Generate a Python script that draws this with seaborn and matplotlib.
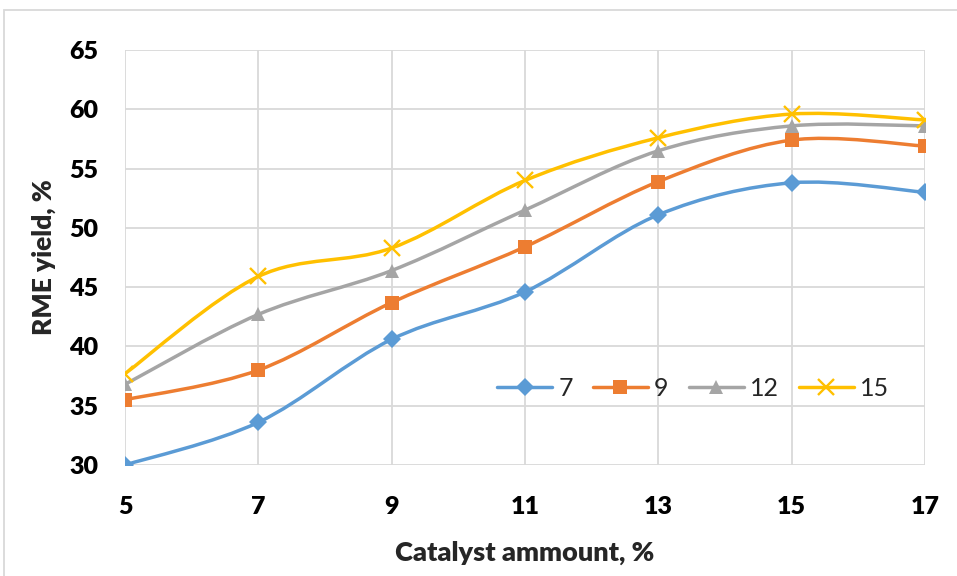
import numpy as np
import pandas as pd
import seaborn as sns
import matplotlib
matplotlib.use("Agg")
import matplotlib.pyplot as plt
from matplotlib.path import Path
from matplotlib.patches import PathPatch, Rectangle
from matplotlib.lines import Line2D

catalyst = [5, 7, 9, 11, 13, 15, 17]
yield_7 = [30.0, 33.6, 40.6, 44.6, 51.1, 53.8, 53.0]
yield_9 = [35.5, 38.0, 43.7, 48.4, 53.9, 57.4, 56.9]
yield_12 = [36.8, 42.7, 46.4, 51.5, 56.5, 58.6, 58.6]
yield_15 = [37.7, 45.9, 48.3, 54.0, 57.6, 59.6, 59.1]
series_names = ["7", "9", "12", "15"]
y_ticks = [30, 35, 40, 45, 50, 55, 60, 65]

colors = ["#5B9BD5", "#ED7D31", "#A5A5A5", "#FFC000"]
markers = ["D", "s", "^", "x"]
msizes = [9, 10, 10, 11.5]

sns.set_theme(style="white")
plt.rcParams["font.family"] = ["Lato", "DejaVu Sans"]

df = pd.DataFrame({
    "catalyst": catalyst * 4,
    "yield": yield_7 + yield_9 + yield_12 + yield_15,
    "series": [n for n in series_names for _ in catalyst],
})

fig = plt.figure(figsize=(9.57, 5.76), dpi=100)
ax = fig.add_axes([125 / 957, 1 - 465 / 576, 800 / 957, 415 / 576])


def smooth_path(xs, ys):
    """Bezier path through the points (Catmull-Rom style control points)."""
    pts = np.column_stack([xs, ys]).astype(float)
    n = len(pts)
    verts = [pts[0]]
    codes = [Path.MOVETO]
    for i in range(n - 1):
        p0 = pts[i - 1] if i > 0 else pts[i]
        p1 = pts[i]
        p2 = pts[i + 1]
        p3 = pts[i + 2] if i + 2 < n else pts[i + 1]
        c1 = p1 + (p2 - p0) / 6.0
        c2 = p2 - (p3 - p1) / 6.0
        verts += [c1, c2, p2]
        codes += [Path.CURVE4] * 3
    return Path(verts, codes)


handles = []
for name, col, mk, ms in zip(series_names, colors, markers, msizes):
    sub = df[df["series"] == name]
    patch = PathPatch(smooth_path(sub["catalyst"], sub["yield"]), facecolor="none",
                      edgecolor=col, lw=2.5, zorder=3, capstyle="round")
    ax.add_patch(patch)
    mew = 1.7 if mk == "x" else 0
    sns.lineplot(data=sub, x="catalyst", y="yield", ax=ax, color=col, marker=mk,
                 markersize=ms, markeredgecolor=col, markeredgewidth=mew,
                 linestyle="none", zorder=4, legend=False)
    handles.append(Line2D([0], [0], color=col, lw=2.5, marker=mk, markersize=ms,
                          markeredgecolor=col, markeredgewidth=mew))

ax.set_xlim(5, 17)
ax.set_ylim(30, 65)
ax.set_xticks(catalyst)
ax.set_yticks(y_ticks)
ax.grid(True, color="#D9D9D9", lw=1.3)
ax.set_axisbelow(True)
for s in ax.spines.values():
    s.set_visible(False)
ax.tick_params(axis="both", length=0, labelsize=18, colors="black")
ax.tick_params(axis="x", pad=22)
ax.tick_params(axis="y", pad=19)
for lab in ax.get_xticklabels() + ax.get_yticklabels():
    lab.set_fontweight("heavy")

ax.set_xlabel("Catalyst ammount, %", fontsize=19.5, fontweight="heavy", labelpad=17)
ax.set_ylabel("RME yield, %", fontsize=19, fontweight="heavy", labelpad=10)

ax.legend(handles, series_names, loc="center left", bbox_to_anchor=(0.465, 0.1855),
          ncol=4, frameon=False, fontsize=18, handlelength=2.2, columnspacing=0.8,
          handletextpad=0.25, borderaxespad=0, borderpad=0)

fig.patches.append(Rectangle((4 / 957, -0.05), 1.1, 1 - 10 / 576 + 0.05,
                             transform=fig.transFigure, fill=False,
                             edgecolor="#D9D9D9", lw=1.3))

fig.savefig("out.png", dpi=100)
